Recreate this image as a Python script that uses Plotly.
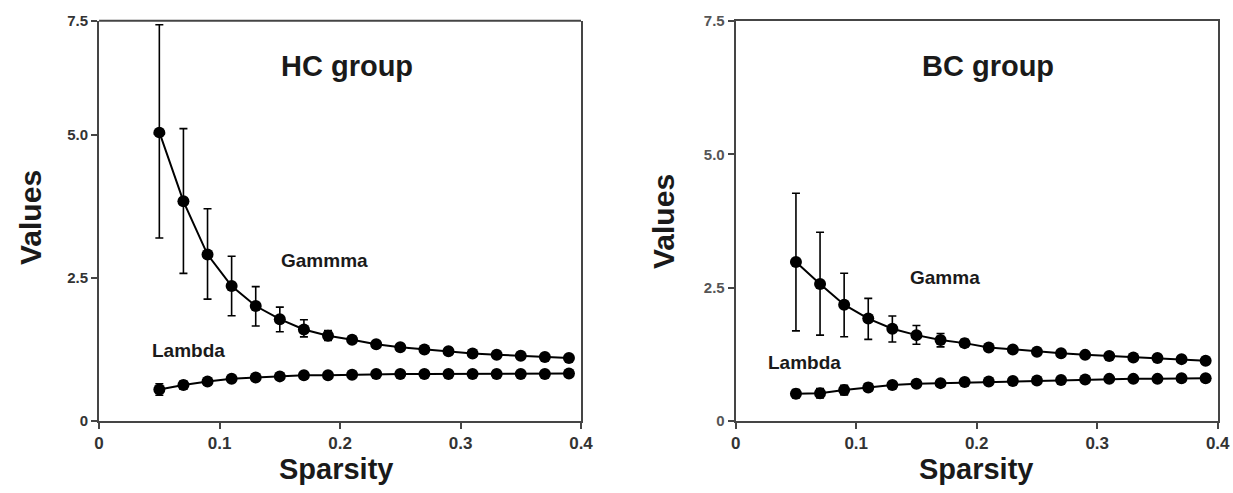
import plotly.graph_objects as go

# ---------------- data ----------------
sparsity = [0.05, 0.07, 0.09, 0.11, 0.13, 0.15, 0.17, 0.19, 0.21,
            0.23, 0.25, 0.27, 0.29, 0.31, 0.33, 0.35, 0.37, 0.39]

hc_gamma = [5.05, 3.84, 2.91, 2.36, 2.01, 1.78, 1.60, 1.49, 1.42,
            1.34, 1.29, 1.25, 1.22, 1.18, 1.16, 1.14, 1.12, 1.10]
hc_gamma_err_plus = [2.36, 1.30, 0.80, 0.52, 0.34, 0.21, 0.17, 0.09, 0.06,
                     0.05, 0.04, 0.03, 0.03, 0.03, 0.02, 0.02, 0.02, 0.02]
hc_gamma_err_minus = [1.85, 1.26, 0.78, 0.52, 0.35, 0.22, 0.13, 0.08, 0.06,
                      0.05, 0.04, 0.03, 0.03, 0.03, 0.02, 0.02, 0.02, 0.02]
hc_lambda = [0.55, 0.63, 0.69, 0.74, 0.76, 0.78, 0.80, 0.80, 0.81,
             0.82, 0.82, 0.82, 0.82, 0.82, 0.82, 0.82, 0.82, 0.83]
hc_lambda_err = [0.10, 0.07, 0.05, 0.04, 0.03, 0.03, 0.02, 0.02, 0.02,
                 0.02, 0.02, 0.02, 0.02, 0.02, 0.02, 0.02, 0.02, 0.02]

bc_gamma = [2.98, 2.57, 2.18, 1.92, 1.73, 1.61, 1.52, 1.46, 1.38,
            1.34, 1.30, 1.27, 1.24, 1.22, 1.19, 1.18, 1.16, 1.13]
bc_gamma_err_plus = [1.29, 0.97, 0.59, 0.38, 0.24, 0.18, 0.12, 0.07, 0.05,
                     0.04, 0.03, 0.03, 0.03, 0.02, 0.02, 0.02, 0.02, 0.02]
bc_gamma_err_minus = [1.29, 0.96, 0.60, 0.39, 0.25, 0.17, 0.13, 0.07, 0.05,
                      0.04, 0.03, 0.03, 0.03, 0.02, 0.02, 0.02, 0.02, 0.02]
bc_lambda = [0.51, 0.52, 0.58, 0.63, 0.675, 0.70, 0.71, 0.73, 0.74,
             0.75, 0.76, 0.77, 0.78, 0.79, 0.79, 0.79, 0.80, 0.80]
bc_lambda_err = [0.08, 0.09, 0.09, 0.07, 0.05, 0.04, 0.03, 0.03, 0.03,
                 0.02, 0.02, 0.02, 0.02, 0.02, 0.02, 0.02, 0.02, 0.02]

x_ticks = [0, 0.1, 0.2, 0.3, 0.4]
x_tick_text = ["0", "0.1", "0.2", "0.3", "0.4"]
y_ticks_low = [0, 2.5, 5.0]
y_tick_text_low = ["0", "2.5", "5.0"]
y_ticks_high = [7.5]
y_tick_text_high = ["7.5"]
y_ticks_full = [0, 2.5, 5.0, 7.5]
y_tick_text_full = ["0", "2.5", "5.0", "7.5"]

# ---------------- styling ----------------
W, H = 1233, 493
FONT = "Liberation Sans, Arial, sans-serif"
TXT = "#1a1a1a"
AX = "#454545"


def px(x):
    return x / W


def py(y):
    return 1 - y / H


def bold(labels):
    return ["<b>%s</b>" % t for t in labels]


marker = dict(symbol="circle", size=12, color="black")
line = dict(color="black", width=2)


def err(plus, minus):
    return dict(type="data", array=plus, arrayminus=minus, visible=True,
                color="black", thickness=1.6, width=4)


fig = go.Figure()

# Left panel (broken y axis: lower 0-5, upper 5-7.5)
for ya in ["y", "y3"]:
    fig.add_trace(go.Scatter(x=sparsity, y=hc_gamma, xaxis="x", yaxis=ya,
                             mode="lines+markers", marker=marker, line=line,
                             error_y=err(hc_gamma_err_plus, hc_gamma_err_minus),
                             cliponaxis=True, showlegend=False, name="Gamma"))
fig.add_trace(go.Scatter(x=sparsity, y=hc_lambda, xaxis="x", yaxis="y",
                         mode="lines+markers", marker=marker, line=line,
                         error_y=err(hc_lambda_err, hc_lambda_err),
                         showlegend=False, name="Lambda"))

# Right panel
fig.add_trace(go.Scatter(x=sparsity, y=bc_gamma, xaxis="x2", yaxis="y2",
                         mode="lines+markers", marker=marker, line=line,
                         error_y=err(bc_gamma_err_plus, bc_gamma_err_minus),
                         showlegend=False, name="Gamma"))
fig.add_trace(go.Scatter(x=sparsity, y=bc_lambda, xaxis="x2", yaxis="y2",
                         mode="lines+markers", marker=marker, line=line,
                         error_y=err(bc_lambda_err, bc_lambda_err),
                         showlegend=False, name="Lambda"))

common_axis = dict(showline=True, linecolor=AX, linewidth=2, showgrid=False,
                   zeroline=False, ticks="outside", ticklen=6, tickwidth=1.5,
                   tickcolor=AX, automargin=False, fixedrange=True)

ytick_font = dict(family=FONT, size=15, color="#333333")
ytick_font_r = dict(family=FONT, size=15, color="#555555")
xtick_font = dict(family=FONT, size=17, color="#333333")

yb_low, yb_mid, yb_top = py(421), py(135), py(20.7)

fig.update_layout(
    width=W, height=H,
    margin=dict(l=0, r=0, t=0, b=0),
    paper_bgcolor="white", plot_bgcolor="white",
    xaxis=dict(domain=[px(99.1), px(581)], range=[0, 0.4], anchor="y",
               tickvals=x_ticks, ticktext=bold(x_tick_text), tickfont=xtick_font,
               **common_axis),
    yaxis=dict(domain=[yb_low, yb_mid], range=[0, 5], anchor="x",
               tickvals=y_ticks_low, ticktext=bold(y_tick_text_low), mirror=True,
               tickfont=ytick_font, **common_axis),
    yaxis3=dict(domain=[yb_mid, yb_top], range=[5, 7.5], anchor="x",
                tickvals=y_ticks_high, ticktext=bold(y_tick_text_high), mirror=True,
                tickfont=ytick_font, **common_axis),
    xaxis2=dict(domain=[px(735.7), px(1217.7)], range=[0, 0.4], anchor="y2",
                tickvals=x_ticks, ticktext=bold(x_tick_text), mirror=True,
                tickfont=xtick_font, **common_axis),
    yaxis2=dict(domain=[py(421), py(21)], range=[0, 7.5], anchor="x2",
                tickvals=y_ticks_full, ticktext=bold(y_tick_text_full), mirror=True,
                tickfont=ytick_font_r, **common_axis),
    shapes=[dict(type="line", xref="x domain", yref="y3 domain",
                 x0=0, x1=1, y0=1, y1=1, line=dict(color=AX, width=2))],
)


def ann(text, x, y, size, angle=0):
    fig.add_annotation(text="<b>%s</b>" % text, x=px(x), y=py(y),
                       xref="paper", yref="paper",
                       showarrow=False, textangle=angle,
                       xanchor="center", yanchor="middle",
                       font=dict(family=FONT, size=size, color=TXT))


ann("HC group", 347, 66, 29)
ann("BC group", 988, 66, 29)
ann("Gammma", 324, 260, 19)
ann("Lambda", 188, 350, 19)
ann("Gamma", 945, 277, 19)
ann("Lambda", 804, 362, 19)
ann("Values", 30, 218, 30, -90)
ann("Values", 663, 222, 30, -90)
ann("Sparsity", 336, 469, 29)
ann("Sparsity", 976, 469, 29)

# remove the default page margin so the figure fills the 1233x493 window
fig.write_html("out.html",
               config={"displayModeBar": False},
               post_script="document.body.style.margin='0px';"
                           "document.body.style.overflow='hidden';")
